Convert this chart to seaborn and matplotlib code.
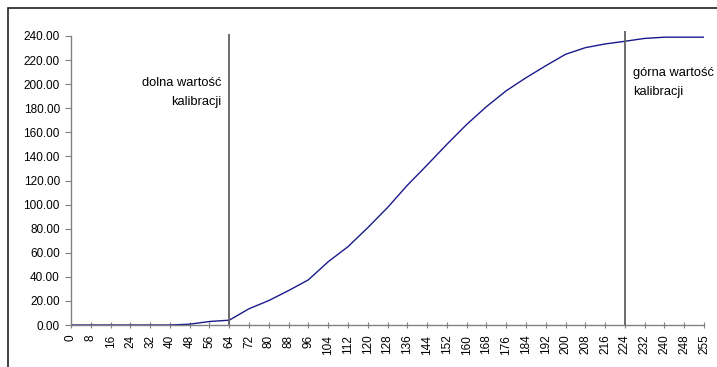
import matplotlib
matplotlib.use("Agg")
import matplotlib.pyplot as plt
import seaborn as sns
import pandas as pd
from matplotlib.patches import Rectangle
from matplotlib.ticker import FuncFormatter

categories = [0, 8, 16, 24, 32, 40, 48, 56, 64, 72, 80, 88, 96, 104, 112, 120,
              128, 136, 144, 152, 160, 168, 176, 184, 192, 200, 208, 216, 224,
              232, 240, 248, 255]
values = [0.0, 0.0, 0.0, 0.0, 0.0, 0.0, 0.7, 2.9, 4.0, 13.5, 20.3, 28.6, 37.5,
          52.5, 65.0, 80.8, 97.5, 116.0, 132.8, 150.0, 166.5, 181.3, 194.5,
          205.3, 215.3, 224.8, 230.3, 233.4, 235.6, 238.0, 239.0, 239.0, 239.0]
calib_values = [64, 224]
calib_top = [242.0, 244.5]

sns.set_theme(style="white")
plt.rcParams["font.family"] = ["Liberation Sans", "DejaVu Sans"]
plt.rcParams["text.color"] = "black"
plt.rcParams["xtick.labelcolor"] = "black"
plt.rcParams["ytick.labelcolor"] = "black"

df = pd.DataFrame({"pos": range(len(categories)), "val": values})

fig = plt.figure(figsize=(7.17, 3.67), dpi=100)
ax = fig.add_axes([71/717, 1-325/367, (704-71)/717, (325-36)/367])

sns.lineplot(data=df, x="pos", y="val", ax=ax, color="#1a1a8c", linewidth=1.0)

ax.set_xlim(0, len(categories)-1)
ax.set_ylim(0, 240)
ax.set_xticks(range(len(categories)))
ax.set_xticklabels([str(c) for c in categories], rotation=90, fontsize=8.5)
ax.set_yticks(range(0, 241, 20))
ax.yaxis.set_major_formatter(FuncFormatter(lambda v, p: f"{v:.2f}"))
ax.tick_params(axis="y", labelsize=8.5, length=4, width=0.8, color="#808080",
               labelcolor="black", direction="out", left=True, pad=4)
ax.tick_params(axis="x", length=4, width=0.8, color="#808080",
               labelcolor="black", direction="inout", bottom=True, pad=5)
ax.set_xlabel("")
ax.set_ylabel("")
for s in ["top", "right"]:
    ax.spines[s].set_visible(False)
for s in ["left", "bottom"]:
    ax.spines[s].set_color("#808080")
    ax.spines[s].set_linewidth(1.0)

for cv, top in zip(calib_values, calib_top):
    xi = categories.index(cv)
    ax.vlines(xi, 0, top, color="#606060", linewidth=1.3, clip_on=False)

fs = 9.3
fig.text(221/717, 1-83/367, "dolna wartość", ha="right", va="center", fontsize=fs, color="black")
fig.text(221/717, 1-102/367, "kalibracji", ha="right", va="center", fontsize=fs, color="black")
fig.text(633/717, 1-73/367, "górna wartość", ha="left", va="center", fontsize=fs, color="black")
fig.text(633/717, 1-92/367, "kalibracji", ha="left", va="center", fontsize=fs, color="black")

fig.patches.append(Rectangle((8/717, -0.1), 1.2, 1.1 - 8/367,
                             transform=fig.transFigure, fill=False,
                             edgecolor="#202020", linewidth=1.2, figure=fig))

fig.savefig("out.png", dpi=100)
